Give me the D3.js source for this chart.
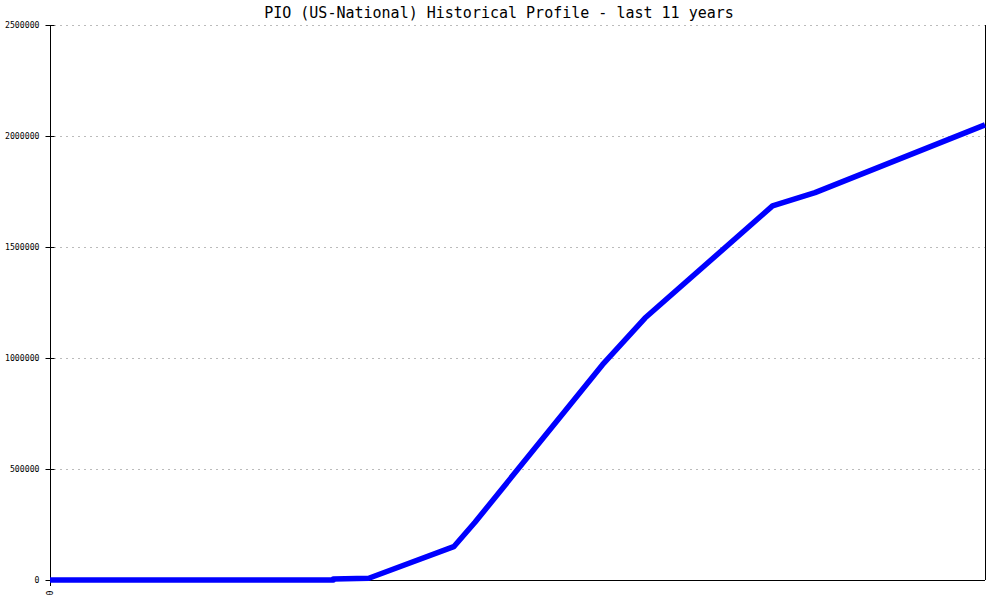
<!DOCTYPE html>
<html>
<head>
<meta charset="utf-8">
<script src="https://cdn.jsdelivr.net/npm/d3@7"></script>
<style>
  body { margin: 0; background: #fff; }
  svg { display: block; }
</style>
</head>
<body>
<svg id="chart" width="1000" height="600"></svg>
<script>
const title = "PIO (US-National) Historical Profile - last 11 years";
const months = [0, 40, 40, 45, 57, 60, 78, 84, 102, 108, 132];
const values = [0, 0, 5000, 8000, 150000, 260000, 970000, 1180000, 1685000, 1745000, 2050000];
const yTicks = [0, 500000, 1000000, 1500000, 2000000, 2500000];
const xTickLabels = ["0"];

const svg = d3.select("#chart");
const pLeft = 50, pRight = 985, pTop = 25, pBottom = 580;

const x = d3.scaleLinear().domain([0, 132]).range([pLeft, pRight]);
const y = d3.scaleLinear().domain([0, 2500000]).range([pBottom, pTop]);

// grid
svg.append("g").selectAll("line").data(yTicks.filter(d => d > 0)).join("line")
  .attr("x1", pLeft + 4).attr("x2", pRight)
  .attr("y1", d => y(d) + 0.5).attr("y2", d => y(d) + 0.5)
  .attr("stroke", "#bbbbbb").attr("stroke-width", 1)
  .attr("stroke-dasharray", "2,4");

// y axis
const yAxis = d3.axisLeft(y).tickValues(yTicks).tickSize(5).tickFormat(d3.format("d"));
const gy = svg.append("g").attr("transform", `translate(${pLeft + 0.5},0)`).call(yAxis);
gy.select(".domain").remove();
gy.selectAll(".tick line").attr("x2", -5).attr("x1", 4).attr("stroke", "#000");
gy.selectAll(".tick text")
  .attr("x", -11)
  .attr("font-family", "'DejaVu Sans Mono', monospace")
  .attr("font-size", 8.2)
  .attr("fill", "#000");

svg.append("line").attr("x1", pLeft + 0.5).attr("x2", pLeft + 0.5)
  .attr("y1", pTop).attr("y2", pBottom + 6).attr("stroke", "#000");
svg.append("line").attr("x1", pRight + 0.5).attr("x2", pRight + 0.5)
  .attr("y1", pTop).attr("y2", pBottom).attr("stroke", "#000");

// x axis
const xAxis = d3.axisBottom(x).tickValues([0]).tickSize(5).tickFormat((d, i) => xTickLabels[i]);
const gx = svg.append("g").attr("transform", `translate(0,${pBottom + 0.5})`).call(xAxis);
gx.select(".domain").attr("d", `M${pLeft},0H${pRight}`).attr("stroke", "#000");
gx.selectAll(".tick text")
  .attr("transform", "rotate(-90)")
  .attr("x", -10).attr("y", 0).attr("dy", "0.35em")
  .attr("text-anchor", "end")
  .attr("font-family", "'DejaVu Sans Mono', monospace")
  .attr("font-size", 8.2)
  .attr("fill", "#000");

// line
const pts = months.map((m, i) => [m, values[i]]);
svg.append("path")
  .datum(pts)
  .attr("d", d3.line().x(d => x(d[0])).y(d => y(d[1])))
  .attr("fill", "none")
  .attr("stroke", "#0000ff")
  .attr("stroke-width", 5.5)
  .attr("stroke-linejoin", "round");

// title
svg.append("text")
  .attr("x", 499).attr("y", 18)
  .attr("text-anchor", "middle")
  .attr("font-family", "'DejaVu Sans Mono', monospace")
  .attr("font-size", 15)
  .attr("fill", "#000")
  .text(title);
</script>
</body>
</html>
